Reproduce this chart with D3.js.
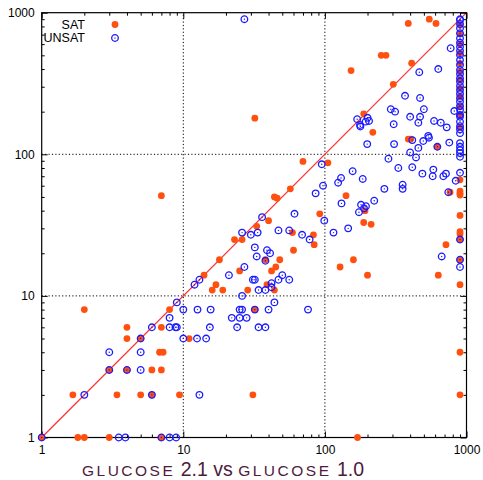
<!DOCTYPE html>
<html>
<head>
<meta charset="utf-8">
<script src="https://cdn.jsdelivr.net/npm/d3@7"></script>
<style>
body { margin: 0; background: #fff; }
svg text { font-family: "Liberation Sans", Arial, sans-serif; }
</style>
</head>
<body>
<div class="container"></div>
<script>
var WIDTH = 483, HEIGHT = 480;

// runtimes [glucose 1.0, glucose 2.1] for satisfiable instances
var satPoints = [
  [1,1],[2,8],[1.66,2],[1.8,1],[2,1],[3,1],[3,3],[3.4,2],[4,6],[4,5],[4,3],[5,5],[5,2],[6,2],[6,3],
  [7,6],[6.8,4],[7.2,4],[7,3],[7,1],[8,8],[9.4,2],[11,5],[170,1],
  [7,51],[70,89],[105,87],[57,57],[44,50],[46,49],[92,38],[40,34],[33,31],[59,28],[83,27],[84,23],
  [23,25],[26,25],[60,21],[38,18],[48,18],[25,15],[45,16],[42,15],[18,18],[14,14],[17,12],[16,11],
  [19,11],[28.5,11],[39,12],[44,11],[32,8],[31,2],
  [32,180],[250,500],[270,500],[153,390],[410,440],[304,312],[188,193],[218,143],[388,128],[404,128],
  [141,51],[192,40],[188,33],[212,32],[159,18],[128,16],[200,14],
  [388,840],[546,900],[609,840],[622,113],[765,54],[716,23],[632,14],
  [900,819],[900,707],[900,601],[900,517],[900,439],[900,383],[900,335],[900,292],[900,255],[900,217],
  [900,190],[900,155],[900,66],[900,55],[900,53],[900,51.6],[900,37],[900,28.4],[900,27.4],[900,25],
  [900,18],[900,12],[900,4],[900,2]
];

// runtimes [glucose 1.0, glucose 2.1] for unsatisfiable instances
var unsatPoints = [
  [1,1],[2,2],[3.5,1],[3.9,1],[3,3],[3,4],[4,3],[5,5],[5,4],[5,3],[6,6],[6,2],[7,1],[8,1],[8.9,1],
  [8,7],[8,6],[8.8,6],[9,6],[9,9],[10,8],[10,5],
  [95,85],[97,60],[86,53],[61,38],[99,34],[36,36],[47,29],[56,29],[69,27],[78,25],[26,28],[30,27],
  [33.5,28],[32,22],[33,19],[39,21],[41,20],[38,17.7],[27,16],[21,14],[50,14],[13,13],[12,12],[31,13],
  [32,13],[34,11],[38,11],[42,11.5],[47,13],[56,13],[42,12.3],[26,10],[44,9],[12.6,8],[15.6,8],[25,8],
  [26,8],[32,8],[40,8],[76,8],[22,7],[25,7],[28,7],[24,6],[34,6],[38,6],[15.4,6],[12.5,5],[14.5,5],[13,2],
  [27,900],[464,380],[368,259],[470,250],[500,208],[292,208],[313,200],[400,184],[470,184],[457,167],
  [306,163],[169,177],[200,181],[205,172],[194,170],[177,161],[178,157],[414,126],[495,124],[537,135],
  [543,131],[308,118],[400,103],[457,111],[199,118],[281,93],[440,95],[330,80],[414,81],[488,73],
  [157,76],[185,67],[130,68],[124,63],[263,57],[354,61],[354,57],[223,47],[131,45],[180,44],[195,43],
  [189,41.5],[174,39],[146,30],[115,28],
  [773,561],[632,400],[590,172],[658,167],[725,155],[820,202],[622,113],[756,121],[744,54],[839,65],
  [668,19],[577,70],[583,78],[686,70],[716,73],
  [900,900],[900,888],[900,832],[900,776],[900,716],[900,659],[900,614],[900,575],[900,539],[900,503],
  [900,463],[900,427],[900,394],[900,369],[900,344],[900,326],[900,304],[900,284],[900,267],[900,249],
  [900,235],[900,219],[900,206],[900,190],[900,184],[900,170],[900,158],[900,150],[900,141],[900,120],
  [900,113],[900,107],[900,102],[900,96],[900,74],[900,25],[900,18],[900,16]
];

var majorTicks = [1, 10, 100, 1000];
var gridTicks = [10, 100];
var legendLabels = ["SAT", "UNSAT"];

var SAT_COLOR = '#ff5010', UNSAT_COLOR = '#1a1aff';

var svg = d3.select('.container').append('svg')
    .attr('width', WIDTH)
    .attr('height', HEIGHT);

var x = d3.scaleLog().domain([1, 1000]).range([41.7, 466.5]);
var y = d3.scaleLog().domain([1, 1000]).range([437.5, 12.7]);
var minorTicks = x.ticks().filter(function(d){ return majorTicks.indexOf(d) < 0; });

// dotted grid
svg.selectAll('line.gx').data(gridTicks).enter().append('line')
    .attr('x1', function(d){ return x(d); }).attr('x2', function(d){ return x(d); })
    .attr('y1', y(1)).attr('y2', y(1000))
    .attr('stroke', '#000').attr('stroke-width', 1).attr('stroke-dasharray', '1.2,2.2');
svg.selectAll('line.gy').data(gridTicks).enter().append('line')
    .attr('y1', function(d){ return y(d); }).attr('y2', function(d){ return y(d); })
    .attr('x1', x(1)).attr('x2', x(1000))
    .attr('stroke', '#000').attr('stroke-width', 1).attr('stroke-dasharray', '1.2,2.2');

// diagonal
svg.append('line')
    .attr('x1', x(1)).attr('y1', y(1)).attr('x2', x(1000)).attr('y2', y(1000))
    .attr('stroke', '#ff3030').attr('stroke-width', 1.2);

// axes on all four sides, ticks inward
var addAxis = function(axisFn, scale, tx, ty, vals, size, labelPad){
    var ax = axisFn(scale).tickValues(vals).tickSize(size).tickSizeOuter(0);
    if (labelPad != null) ax.tickFormat(d3.format('d')).tickPadding(labelPad);
    else ax.tickFormat('');
    var g = svg.append('g').attr('transform', 'translate(' + tx + ',' + ty + ')').call(ax);
    g.select('.domain').remove();
    g.selectAll('line').attr('stroke', '#000');
    g.selectAll('text').attr('font-size', 12).attr('fill', '#000')
        .style('font-family', '"Liberation Sans", Arial, sans-serif');
    return g;
};
addAxis(d3.axisBottom, x, 0, y(1), majorTicks, -6, 8);
addAxis(d3.axisBottom, x, 0, y(1), minorTicks, -3);
addAxis(d3.axisTop, x, 0, y(1000), majorTicks, -6);
addAxis(d3.axisTop, x, 0, y(1000), minorTicks, -3);
addAxis(d3.axisLeft, y, x(1), 0, majorTicks, -6, 7);
addAxis(d3.axisLeft, y, x(1), 0, minorTicks, -3);
addAxis(d3.axisRight, y, x(1000), 0, majorTicks, -6);
addAxis(d3.axisRight, y, x(1000), 0, minorTicks, -3);

// frame
svg.append('rect')
    .attr('x', x(1)).attr('y', y(1000))
    .attr('width', x(1000) - x(1)).attr('height', y(1) - y(1000))
    .attr('fill', 'none').attr('stroke', '#000').attr('stroke-width', 1.2);

var drawSat = function(sel){
    sel.append('circle').attr('r', 3.4).attr('fill', SAT_COLOR);
};
var drawUnsat = function(sel){
    sel.append('circle').attr('r', 3.3).attr('fill', 'none')
        .attr('stroke', UNSAT_COLOR).attr('stroke-width', 1.3);
    sel.append('circle').attr('r', 0.7).attr('fill', UNSAT_COLOR);
};

svg.append('g').selectAll('g').data(satPoints).enter().append('g')
    .attr('transform', function(d){ return 'translate(' + x(d[0]) + ',' + y(d[1]) + ')'; })
    .call(drawSat);
svg.append('g').selectAll('g').data(unsatPoints).enter().append('g')
    .attr('transform', function(d){ return 'translate(' + x(d[0]) + ',' + y(d[1]) + ')'; })
    .call(drawUnsat);

// legend
var legend = svg.append('g').selectAll('g').data(legendLabels).enter().append('g')
    .attr('transform', function(d, i){ return 'translate(0,' + (24.5 + i * 13.5) + ')'; });
legend.append('text')
    .attr('x', 85).attr('dy', '0.35em').attr('text-anchor', 'end')
    .attr('font-size', 12.5).text(function(d){ return d; });
legend.filter(function(d, i){ return i === 0; }).append('g')
    .attr('transform', 'translate(115,0)').call(drawSat);
legend.filter(function(d, i){ return i === 1; }).append('g')
    .attr('transform', 'translate(115,0)').call(drawUnsat);

// title
var title = svg.append('text')
    .attr('x', 82).attr('y', 476)
    .attr('fill', '#4f1a3e').attr('font-size', 19.5);
title.append('tspan').attr('font-size', 15.5).attr('letter-spacing', 2.5).text('GLUCOSE');
title.append('tspan').text(' 2.1 vs ');
title.append('tspan').attr('font-size', 15.5).attr('letter-spacing', 2.5).text('GLUCOSE');
title.append('tspan').text(' 1.0');
</script>
</body>
</html>
